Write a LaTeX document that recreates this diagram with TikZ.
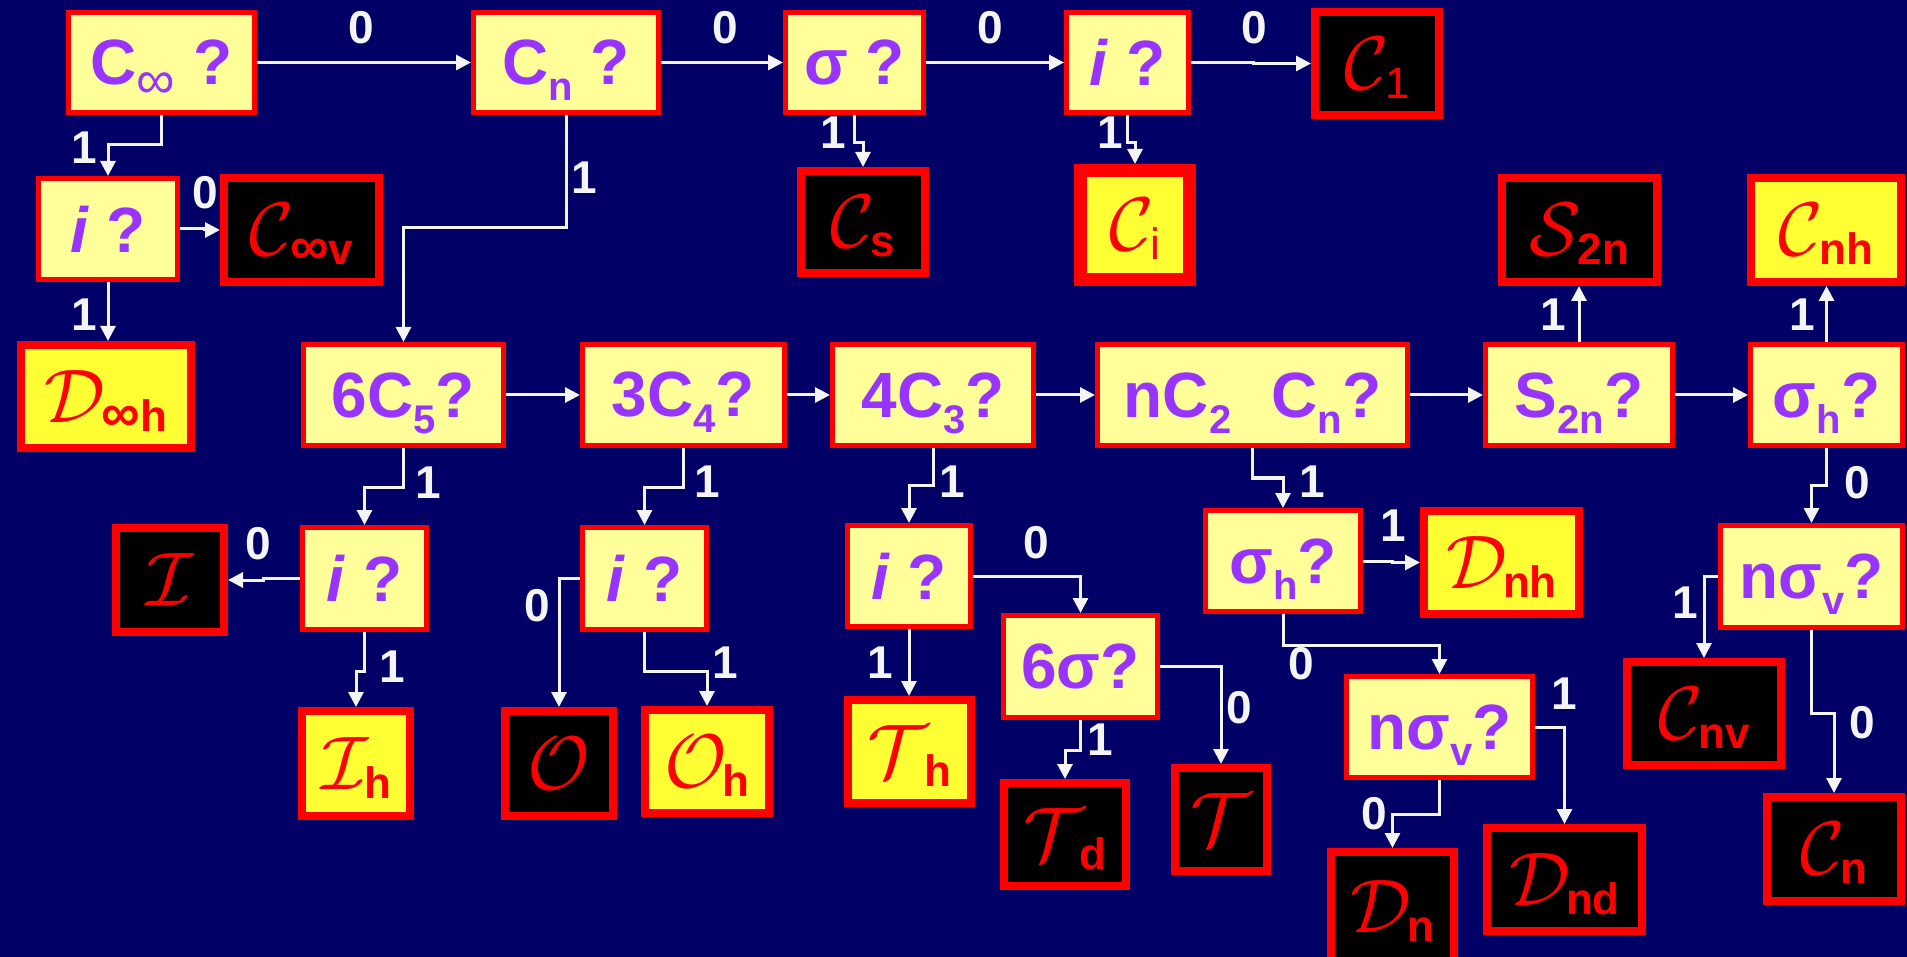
\documentclass[tikz,border=0pt]{standalone}
\usepackage{fix-cm}
\usepackage{fontspec}
\setmainfont{Liberation Sans}
\usetikzlibrary{arrows.meta}

\definecolor{navy}{HTML}{000066}
\definecolor{qfill}{HTML}{FFFF99}
\definecolor{qtext}{HTML}{9933FF}
\definecolor{bred}{HTML}{FF0000}
\definecolor{byel}{HTML}{FFFF33}
\definecolor{lbl}{HTML}{F4F4F4}

% subscripts inside question boxes and result boxes
\newcommand\qsub[1]{\raisebox{-16pt}[0pt][0pt]{\fontsize{40}{40}\selectfont #1}}
\newcommand\rsub[1]{\kern-4pt\raisebox{-9pt}[0pt][0pt]{\fontsize{44}{44}\selectfont\bfseries #1}}
\newcommand\rsubn[1]{\kern-4pt\raisebox{-9pt}[0pt][0pt]{\fontsize{44}{44}\selectfont #1}}
\newcommand\infsym{{\fontsize{54}{54}\selectfont ∞}}
\newcommand\grp[1]{$\mathcal{#1}$}

% box from outer corners: [border]{style}{name}{x1}{y1}{x2}{y2}{text}
\newcommand\placebox[8][5]{%
  \node[#2, line width=#1pt, minimum width={#6-#4-#1}, minimum height={#7-#5-#1}]
    (#3) at ({(#4+#6)/2},{(#5+#7)/2}) {#8};}

\tikzset{
  qbox/.style={draw=bred, fill=qfill, text=qtext,
    font=\fontsize{64}{64}\selectfont\bfseries, inner sep=0pt},
  rbox/.style={draw=bred, text=bred, font=\fontsize{76}{76}\selectfont, inner sep=0pt},
  resdark/.style={rbox, fill=black},
  reslight/.style={rbox, fill=byel},
  arr/.style={draw=lbl, line width=3pt, -{Triangle[length=15pt,width=15pt]}},
  lab/.style={text=lbl, font=\fontsize{46}{46}\selectfont\bfseries, inner sep=0pt},
}

\begin{document}
\begin{tikzpicture}[x=1pt, y=-1pt]
\useasboundingbox (0,0) rectangle (1907,957);
\fill[navy] (0,0) rectangle (1907,957);

% question boxes
\placebox{qbox}{cinf}{66}{10}{257}{115}{C\raisebox{-14pt}[0pt][0pt]{\mdseries\infsym} ?}
\placebox{qbox}{cn}{471}{10}{661}{115}{C\qsub{n} ?}
\placebox{qbox}{sig}{783}{10}{926}{115}{σ ?}
\placebox{qbox}{iT}{1064}{10}{1191}{115}{\textit{i} ?}
\placebox{qbox}{iL}{36}{176}{180}{282}{\textit{i} ?}
\placebox{qbox}{c65}{301}{342}{506}{448}{6C\qsub{5}?}
\placebox{qbox}{c34}{580}{342}{787}{448}{3C\qsub{4}?}
\placebox{qbox}{c43}{830}{342}{1036}{448}{4C\qsub{3}?}
\placebox{qbox}{nc2}{1095}{342}{1410}{448}{nC\qsub{2}\hspace{40pt}C\qsub{n}?}
\placebox{qbox}{s2nq}{1483}{342}{1675}{448}{S\qsub{2n}?}
\placebox{qbox}{sighR}{1748}{342}{1905}{448}{σ\qsub{h}?}
\placebox{qbox}{iA}{300}{525}{429}{632}{\textit{i} ?}
\placebox{qbox}{iB}{580}{525}{709}{632}{\textit{i} ?}
\placebox{qbox}{iC}{845}{523}{973}{629}{\textit{i} ?}
\placebox{qbox}{sig6}{1001}{613}{1160}{720}{6σ?}
\placebox{qbox}{sigM}{1203}{508}{1363}{614}{σ\qsub{h}?}
\placebox{qbox}{nsvM}{1344}{674}{1535}{780}{nσ\qsub{v}?}
\placebox{qbox}{nsvR}{1718}{523}{1905}{630}{nσ\qsub{v}?}

% point groups
\placebox[8]{resdark}{cone}{1311}{8}{1443}{119}{\grp{C}\rsubn{1}}
\placebox[8]{resdark}{cinfv}{220}{174}{383}{286}{\grp{C}\rsub{\infsym v}}
\placebox[8]{reslight}{dinfh}{17}{341}{195}{452}{\grp{D}\rsub{\infsym h}}
\placebox[8]{resdark}{cs}{797}{167}{929}{277}{\grp{C}\rsub{s}}
\placebox[13]{reslight}{ci}{1074}{164}{1196}{286}{\grp{C}\rsubn{i}}
\placebox[8]{resdark}{s2n}{1498}{174}{1661}{286}{\grp{S}\rsub{2n}}
\placebox[8]{reslight}{cnh}{1747}{174}{1905}{286}{\grp{C}\rsub{nh}}
\placebox[8]{resdark}{ico}{112}{524}{228}{636}{\grp{I}}
\placebox[8]{reslight}{ih}{298}{707}{414}{820}{\grp{I}\rsub{h}}
\placebox[8]{resdark}{oct}{501}{707}{617}{820}{\grp{O}}
\placebox[8]{reslight}{oh}{641}{706}{773}{817}{\grp{O}\rsub{h}}
\placebox[8]{reslight}{th}{844}{696}{975}{807}{\grp{T}\rsub{h}}
\placebox[8]{resdark}{td}{1000}{779}{1130}{890}{\grp{T}\rsub{d}}
\placebox[8]{resdark}{tet}{1171}{764}{1271}{875}{\grp{T}}
\placebox[8]{reslight}{dnh}{1420}{507}{1583}{618}{\grp{D}\rsub{nh}}
\placebox[8]{resdark}{cnv}{1623}{658}{1785}{769}{\grp{C}\rsub{nv}}
\placebox[8]{resdark}{dn}{1327}{848}{1458}{966}{\grp{D}\rsub{n}}
\placebox[8]{resdark}{dnd}{1483}{824}{1646}{935}{\grp{D}\rsub{nd}}
\placebox[8]{resdark}{cnb}{1763}{793}{1905}{905}{\grp{C}\rsub{n}}

% connectors
\draw[arr] (cinf.east) -- (cn.west);
\draw[arr] (cn.east) -- (sig.west);
\draw[arr] (sig.east) -- (iT.west);
\draw[arr] (iT.east) -- ++(62,0) |- (cone.west);
\draw[arr] (cinf.south) |- (iL.north |- 0,145) -- (iL.north);
\draw[arr] (iL.east) -- ++(24,0) |- (cinfv.west);
\draw[arr] (iL.south) -- (iL.south |- dinfh.north);
\draw[arr] (cn.south) |- (c65.north |- 0,228) -- (c65.north);
\draw[arr] (sig.south) |- (cs.north |- 0,143) -- (cs.north);
\draw[arr] (iT.south) |- (ci.north |- 0,143) -- (ci.north);

\draw[arr] (c65.east) -- (c34.west);
\draw[arr] (c34.east) -- (c43.west);
\draw[arr] (c43.east) -- (nc2.west);
\draw[arr] (nc2.east) -- (s2nq.west);
\draw[arr] (s2nq.east) -- (sighR.west);
\draw[arr] (s2nq.north) -- (s2nq.north |- s2n.south);
\draw[arr] (sighR.north) -- (sighR.north |- cnh.south);
\draw[arr] (sighR.south) |- (nsvR.north |- 0,485) -- (nsvR.north);
\draw[arr] (nsvR.west) -| (cnv.north);
\draw[arr] (nsvR.south) |- (cnb.north |- 0,713) -- (cnb.north);

\draw[arr] (c65.south) |- (iA.north |- 0,487) -- (iA.north);
\draw[arr] (iA.west) -- ++(-37,0) |- (ico.east);
\draw[arr] (iA.south) |- (ih.north |- 0,671) -- (ih.north);
\draw[arr] (c34.south) |- (iB.north |- 0,487) -- (iB.north);
\draw[arr] (iB.west) -| (oct.north);
\draw[arr] (iB.south) |- (oh.north |- 0,671) -- (oh.north);
\draw[arr] (c43.south) |- (iC.north |- 0,485) -- (iC.north);
\draw[arr] (iC.east) -| (sig6.north);
\draw[arr] (iC.south) -- (iC.south |- th.north);
\draw[arr] (sig6.east) -| (tet.north);
\draw[arr] (sig6.south) |- (td.north |- 0,750) -- (td.north);
\draw[arr] (nc2.south) |- (sigM.north |- 0,478) -- (sigM.north);
\draw[arr] (sigM.east) -- ++(29,0) |- (dnh.west);
\draw[arr] (sigM.south) |- (nsvM.north |- 0,645) -- (nsvM.north);
\draw[arr] (nsvM.east) -| (dnd.north);
\draw[arr] (nsvM.south) |- (dn.north |- 0,814) -- (dn.north);

% branch labels
\node[lab] (l01) at (361,28) {0};
\node[lab] (l02) at (725,28) {0};
\node[lab] (l03) at (990,28) {0};
\node[lab] (l04) at (1254,28) {0};
\node[lab] (l05) at (84,148) {1};
\node[lab] (l06) at (205,193) {0};
\node[lab] (l07) at (84,315) {1};
\node[lab] (l08) at (584,178) {1};
\node[lab] (l09) at (833,133) {1};
\node[lab] (l10) at (1110,133) {1};
\node[lab] (l11) at (1553,315) {1};
\node[lab] (l12) at (1802,315) {1};
\node[lab] (l13) at (1857,483) {0};
\node[lab] (l14) at (1685,603) {1};
\node[lab] (l15) at (1862,723) {0};
\node[lab] (l16) at (428,483) {1};
\node[lab] (l17) at (258,544) {0};
\node[lab] (l18) at (392,667) {1};
\node[lab] (l19) at (707,482) {1};
\node[lab] (l20) at (537,606) {0};
\node[lab] (l21) at (725,663) {1};
\node[lab] (l22) at (952,482) {1};
\node[lab] (l23) at (1036,543) {0};
\node[lab] (l24) at (880,663) {1};
\node[lab] (l25) at (1239,708) {0};
\node[lab] (l26) at (1100,740) {1};
\node[lab] (l27) at (1312,482) {1};
\node[lab] (l28) at (1393,526) {1};
\node[lab] (l29) at (1301,664) {0};
\node[lab] (l30) at (1564,694) {1};
\node[lab] (l31) at (1374,814) {0};
\end{tikzpicture}
\end{document}
